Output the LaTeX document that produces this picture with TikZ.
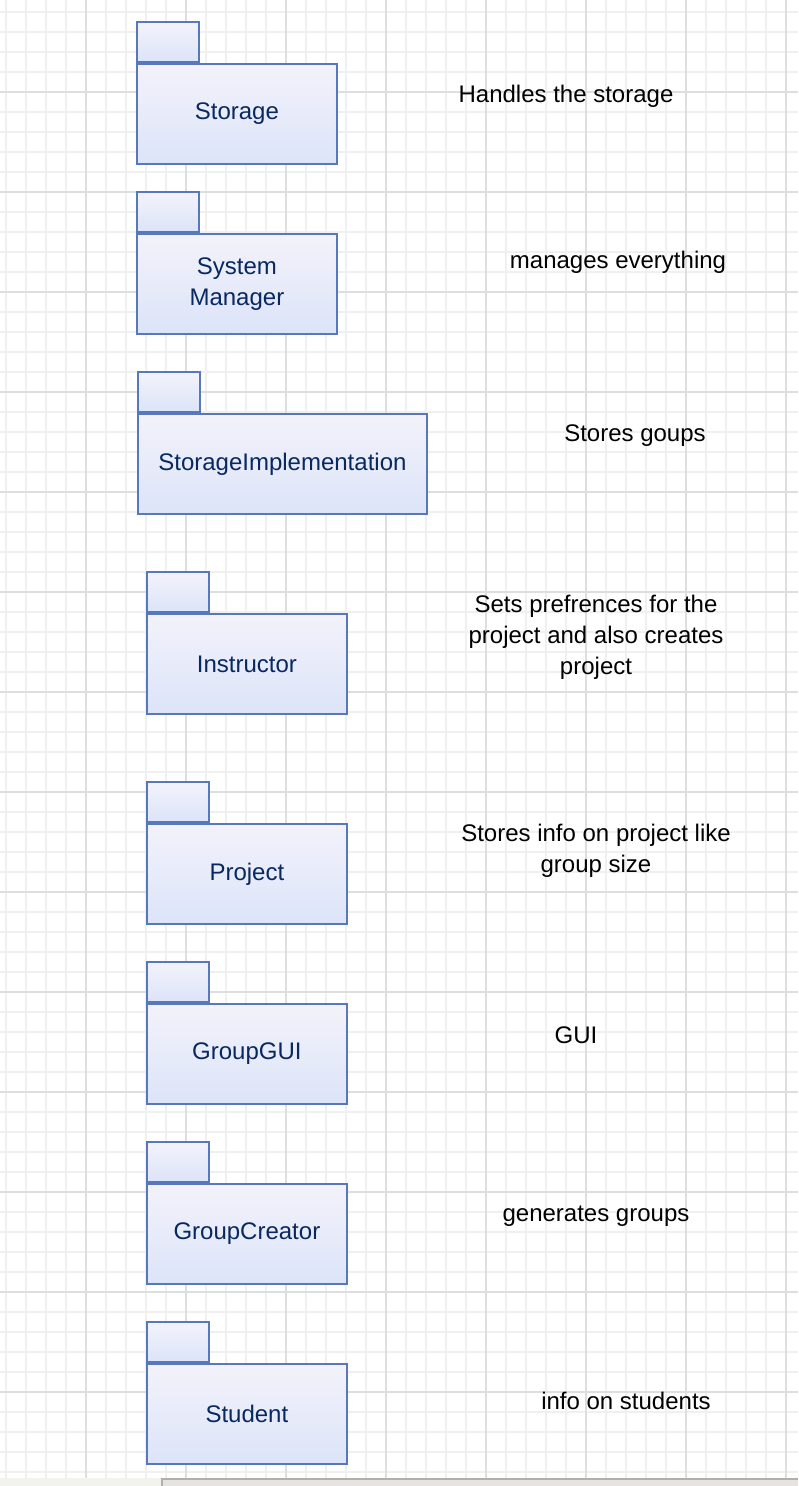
\documentclass[tikz,border=0pt]{standalone}
\usepackage{fontspec}
\setmainfont{Liberation Sans}
\usepackage{tikz}
\usetikzlibrary{positioning}
\definecolor{pkgline}{RGB}{88,120,190}
\definecolor{pkgtop}{RGB}{243,242,250}
\definecolor{pkgbot}{RGB}{220,228,249}
\definecolor{pkgtext}{RGB}{8,40,96}
\definecolor{gridminor}{RGB}{240,240,240}
\definecolor{gridmajor}{RGB}{222,222,222}
\definecolor{barleft}{RGB}{243,243,238}
\definecolor{barright}{RGB}{230,228,224}
\definecolor{barline}{RGB}{176,176,170}

\begin{document}
\begin{tikzpicture}[x=0.5pt,y=-0.5pt,
  pkg/.style={draw=pkgline,line width=0.9pt,top color=pkgtop,
  bottom color=pkgbot,minimum width=100pt,minimum height=50pt,
  inner sep=0pt,text=pkgtext,align=center,
  font=\fontsize{12}{15.5}\selectfont},
  pkgtab/.style={draw=pkgline,line width=0.9pt,top color=pkgtop,
  bottom color=pkgbot,minimum width=31pt,minimum height=20pt,
  inner sep=0pt},
  note/.style={align=center,font=\fontsize{12}{15.5}\selectfont}]

  \useasboundingbox[fill=white] (0,0) rectangle (798,1486);

  % background grid
  \foreach \gx in {6,26,...,786}
    \draw[gridminor,line width=0.7pt] (\gx,0) -- (\gx,1478);
  \foreach \gy in {12,32,...,1472}
    \draw[gridminor,line width=0.7pt] (0,\gy) -- (798,\gy);
  \foreach \gx in {86,186,...,786}
    \draw[gridmajor,line width=0.8pt] (\gx,0) -- (\gx,1478);
  \foreach \gy in {92,192,...,1392}
    \draw[gridmajor,line width=0.8pt] (0,\gy) -- (798,\gy);

  % packages
  \node[pkg,anchor=north west] (storage) at (136,63) {Storage};
  \node[pkgtab,anchor=south west] (storagetab) at (storage.north west) {};

  \node[pkg,anchor=north west] (manager) at (136,233) {System\\Manager};
  \node[pkgtab,anchor=south west] (managertab) at (manager.north west) {};

  \node[pkg,anchor=north west,minimum width=144.5pt] (impl) at (137,413)
    {StorageImplementation};
  \node[pkgtab,anchor=south west] (impltab) at (impl.north west) {};

  \node[pkg,anchor=north west] (instructor) at (146,613) {Instructor};
  \node[pkgtab,anchor=south west] (instructortab) at (instructor.north west) {};

  \node[pkg,anchor=north west] (project) at (146,823) {Project};
  \node[pkgtab,anchor=south west] (projecttab) at (project.north west) {};

  \node[pkg,anchor=north west] (gui) at (146,1003) {GroupGUI};
  \node[pkgtab,anchor=south west] (guitab) at (gui.north west) {};

  \node[pkg,anchor=north west] (creator) at (146,1183) {GroupCreator};
  \node[pkgtab,anchor=south west] (creatortab) at (creator.north west) {};

  \node[pkg,anchor=north west] (student) at (146,1363) {Student};
  \node[pkgtab,anchor=south west] (studenttab) at (student.north west) {};

  % descriptions
  \node[note] (storagenote) at (566,96) {Handles the storage};
  \node[note] (managernote) at (618,262) {manages everything};
  \node[note] (implnote) at (635,436) {Stores goups};
  \node[note] (instructornote) at (596,637)
    {Sets prefrences for the\\project and also creates\\project};
  \node[note] (projectnote) at (596,851)
    {Stores info on project like\\group size};
  \node[note] (guinote) at (576,1035) {GUI};
  \node[note] (creatornote) at (596,1216) {generates groups};
  \node[note] (studentnote) at (626,1401) {info on students};

  % bottom bar
  \fill[barleft] (0,1478) rectangle (162,1486);
  \fill[barright] (162,1479) rectangle (798,1486);
  \draw[barline,line width=0.8pt] (162,1486) |- (798,1479);

\end{tikzpicture}
\end{document}
